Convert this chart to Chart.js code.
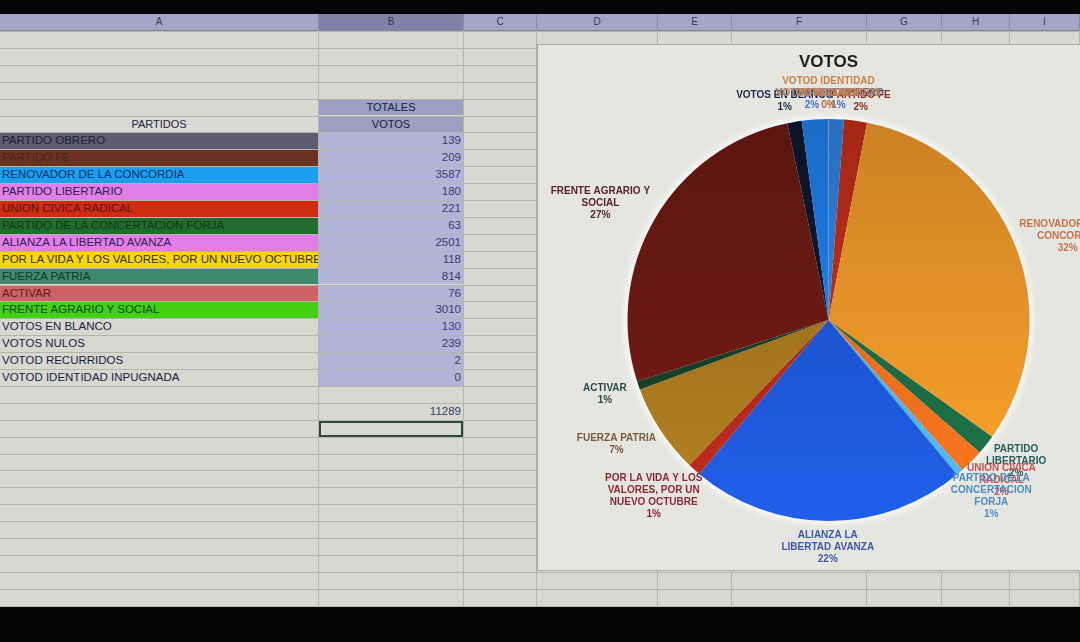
<!DOCTYPE html>
<html>
<head>
<meta charset="utf-8">
<script src="https://cdn.jsdelivr.net/npm/chart.js@4.4.0/dist/chart.umd.min.js"></script>
<style>
  body { margin: 0; width: 1080px; height: 642px; overflow: hidden; background: #d7d8d0; font-family: "Liberation Sans", Arial, sans-serif; position: relative; }
  .abs { position: absolute; }
  #negroSup { left: 0; top: 0; width: 1080px; height: 14px; background: #050505; }
  #negroInf { left: 0; top: 607px; width: 1080px; height: 35px; background: #050505; }
  #cabecera { left: 0; top: 14px; width: 1080px; height: 16px; background: #a4a6c8; border-bottom: 1px solid #85879f; }
  .col { position: absolute; top: 0; height: 16px; font-size: 10px; line-height: 16px; text-align: center; color: #3a3a52; border-right: 1px solid #8a8cae; box-sizing: border-box; }
  .celda { position: absolute; box-sizing: border-box; font-size: 11.5px; white-space: nowrap; overflow: hidden; padding: 0 2px; color: #1d2244; }
  .linea { position: absolute; background: #b4b5ad; }
  #grafico { left: 537px; top: 44px; width: 545px; height: 527px; background: #e6e6e0; border: 1px solid #a9aaa4; box-sizing: border-box; }
  #torta { position: absolute; left: 537px; top: 44px; }
</style>
</head>
<body>
<div id="negroSup" class="abs"></div>
<div id="cabecera" class="abs"></div>
<div id="hoja"></div>
<div id="grafico" class="abs"></div>
<canvas id="torta" width="543" height="526"></canvas>
<div id="negroInf" class="abs"></div>

<script>
// datos de la planilla
const partidos = ['PARTIDO OBRERO', 'PARTIDO FE', 'RENOVADOR DE LA CONCORDIA', 'PARTIDO LIBERTARIO',
  'UNION CIVICA RADICAL', 'PARTIDO DE LA CONCERTACION FORJA', 'ALIANZA LA LIBERTAD AVANZA',
  'POR LA VIDA Y LOS VALORES, POR UN NUEVO OCTUBRE', 'FUERZA PATRIA', 'ACTIVAR',
  'FRENTE AGRARIO Y SOCIAL', 'VOTOS EN BLANCO', 'VOTOS NULOS', 'VOTOD RECURRIDOS', 'VOTOD IDENTIDAD INPUGNADA'];
const votos = [139, 209, 3587, 180, 221, 63, 2501, 118, 814, 76, 3010, 130, 239, 2, 0];

// etiquetas del grafico (como las corta Excel)
const etiquetas = [
  ['PARTIDO OBRERO'], ['PARTIDO FE'], ['RENOVADOR DE LA', 'CONCORDIA'], ['PARTIDO', 'LIBERTARIO'],
  ['UNION CIVICA', 'RADICAL'], ['PARTIDO DE LA', 'CONCERTACION', 'FORJA'], ['ALIANZA LA', 'LIBERTAD AVANZA'],
  ['POR LA VIDA Y LOS', 'VALORES, POR UN', 'NUEVO OCTUBRE'], ['FUERZA PATRIA'], ['ACTIVAR'],
  ['FRENTE AGRARIO Y', 'SOCIAL'], ['VOTOS EN BLANCO'], ['VOTOS NULOS'], ['VOTOD RECURRIDOS'], ['VOTOD IDENTIDAD', 'INPUGNADA']
];

// estilos
const coloresCelda = ['#5f5b70', '#6b3222', '#1c9ff0', '#e27fe6', '#cf2c12', '#216b2d', '#e27fe6',
  '#f6d70a', '#3f8a6b', '#cf6264', '#42d013', null, null, null, null];
const coloresTexto = ['#1d2040', '#4a2418', '#13306a', '#2a1f55', '#5a1510', '#0d3a18', '#2a1f55',
  '#3a3000', '#0f3a2a', '#5a1a1e', '#114a10', '#1d2244', '#1d2244', '#1d2244', '#1d2244'];
const coloresPorcion = ['#2d84e4', '#c22e1a', '#f29a2a', '#1d6b44', '#f0701e', '#4db2ea', '#1d58d8',
  '#b32a1c', '#a8781f', '#163f28', '#6e1a13', '#0f1830', '#1f80ec', '#f08a2e', '#9aa0c0'];
const coloresEtiqueta = ['#3c6db8', '#8e2c26', '#c8714e', '#2c5c5a', '#c85252', '#4f8cc4', '#3c5aa6',
  '#8c2a32', '#7a5a40', '#2e4a4c', '#5a2326', '#1c2a48', '#3c74d2', '#c8804e', '#c8804e'];

const columnas = [['A', 0, 319], ['B', 319, 464], ['C', 464, 537], ['D', 537, 658], ['E', 658, 732],
  ['F', 732, 867], ['G', 867, 942], ['H', 942, 1010], ['I', 1010, 1080]];
const Y0 = 31, RH = 16.9;

// cabecera de columnas
const cab = document.getElementById('cabecera');
columnas.forEach(([l, a, b]) => {
  const d = document.createElement('div');
  d.className = 'col';
  d.style.left = a + 'px'; d.style.width = (b - a) + 'px';
  if (l === 'B') d.style.background = '#7f81a6';
  d.textContent = l;
  cab.appendChild(d);
});

const hoja = document.getElementById('hoja');
function div(cls, css, txt) {
  const d = document.createElement('div');
  d.className = cls;
  Object.assign(d.style, css);
  if (txt !== undefined) d.textContent = txt;
  hoja.appendChild(d);
  return d;
}
// lineas de la grilla
for (let i = 0; i <= 34; i++) {
  div('linea', { left: '0px', top: (Y0 + i * RH) + 'px', width: '1080px', height: '1px' });
}
columnas.forEach(([l, a, b]) => {
  div('linea', { left: (b - 1) + 'px', top: '30px', width: '1px', height: '577px' });
});

function celda(fila, col, txt, css) {
  const c = columnas.find(k => k[0] === col);
  const base = { left: c[1] + 'px', top: (Y0 + fila * RH + 1) + 'px', width: (c[2] - c[1] - 1) + 'px',
    height: (RH - 1) + 'px', lineHeight: (RH - 1) + 'px' };
  return div('celda', Object.assign(base, css || {}), txt);
}
celda(4, 'B', 'TOTALES', { background: '#9c9ec2', textAlign: 'center', fontSize: '11px' });
celda(5, 'A', 'PARTIDOS', { background: '#dadbd4', textAlign: 'center', fontSize: '11px' });
celda(5, 'B', 'VOTOS', { background: '#9c9ec2', textAlign: 'center', fontSize: '11px' });
partidos.forEach((p, i) => {
  celda(6 + i, 'A', p, { background: coloresCelda[i] || 'transparent', color: coloresTexto[i] });
  celda(6 + i, 'B', String(votos[i]), { background: '#b2b4da', textAlign: 'right', color: '#3a3d66' });
});
const total = votos.reduce((a, b) => a + b, 0);
celda(22, 'B', String(total), { textAlign: 'right', color: '#3a3d66' });
celda(23, 'B', '', { border: '2px solid #2d4a30' });

// grafico de torta
function tono(hex, f) {
  const n = parseInt(hex.slice(1), 16);
  const c = [(n >> 16) & 255, (n >> 8) & 255, n & 255].map(v => Math.min(255, Math.round(v * f)));
  return 'rgb(' + c.join(',') + ')';
}
function relleno(ctx) {
  const area = ctx.chart.chartArea;
  const col = coloresPorcion[ctx.dataIndex];
  if (!area) return col;
  const g = ctx.chart.ctx.createLinearGradient(0, area.top, 0, area.bottom);
  g.addColorStop(0, tono(col, 0.84));
  g.addColorStop(1, tono(col, 1.08));
  return g;
}

const halo = {
  id: 'halo',
  beforeDatasetsDraw(chart) {
    const arc = chart.getDatasetMeta(0).data[0];
    if (!arc) return;
    const p = arc.getProps(['x', 'y', 'outerRadius']);
    const ctx = chart.ctx;
    ctx.save();
    ctx.shadowColor = 'rgba(255,255,255,0.95)';
    ctx.shadowBlur = 10;
    ctx.fillStyle = '#f4f4f2';
    ctx.beginPath();
    ctx.arc(p.x, p.y, p.outerRadius + 2, 0, Math.PI * 2);
    ctx.fill();
    ctx.restore();
  }
};

const rotulos = {
  id: 'rotulos',
  afterDatasetsDraw(chart) {
    const ctx = chart.ctx;
    const meta = chart.getDatasetMeta(0);
    const lh = 12;
    ctx.save();
    ctx.font = 'bold 10px "Liberation Sans"';
    ctx.textAlign = 'center';
    ctx.textBaseline = 'middle';
    meta.data.forEach((arc, i) => {
      const p = arc.getProps(['x', 'y', 'startAngle', 'endAngle', 'outerRadius']);
      const mid = (p.startAngle + p.endAngle) / 2;
      const dx = Math.cos(mid), dy = Math.sin(mid);
      const lineas = etiquetas[i].concat([Math.round(votos[i] / total * 100) + '%']);
      const w = Math.max(...lineas.map(l => ctx.measureText(l).width));
      const h = lineas.length * lh;
      const sep = 8 + 6 * Math.max(0, -dx);
      const ax = p.x + dx * (p.outerRadius + sep), ay = p.y + dy * (p.outerRadius + sep);
      const cx = ax + dx * w / 2, cy = ay + dy * h / 2;
      ctx.fillStyle = coloresEtiqueta[i];
      lineas.forEach((l, k) => ctx.fillText(l, cx, cy - h / 2 + lh * (k + 0.5)));
    });
    ctx.restore();
  }
};

new Chart(document.getElementById('torta'), {
  type: 'pie',
  data: {
    labels: partidos,
    datasets: [{ data: votos, backgroundColor: relleno, borderWidth: 0 }]
  },
  options: {
    responsive: false,
    animation: false,
    layout: { padding: { left: 40, right: 0, top: 0, bottom: 49 } },
    plugins: {
      legend: { display: false },
      tooltip: { enabled: false },
      title: {
        display: true, text: 'VOTOS', color: '#1e1e1e',
        font: { family: 'Liberation Sans', size: 17, weight: 'bold' },
        padding: { top: 8, bottom: 46.6 }
      }
    }
  },
  plugins: [halo, rotulos]
});
</script>
</body>
</html>
